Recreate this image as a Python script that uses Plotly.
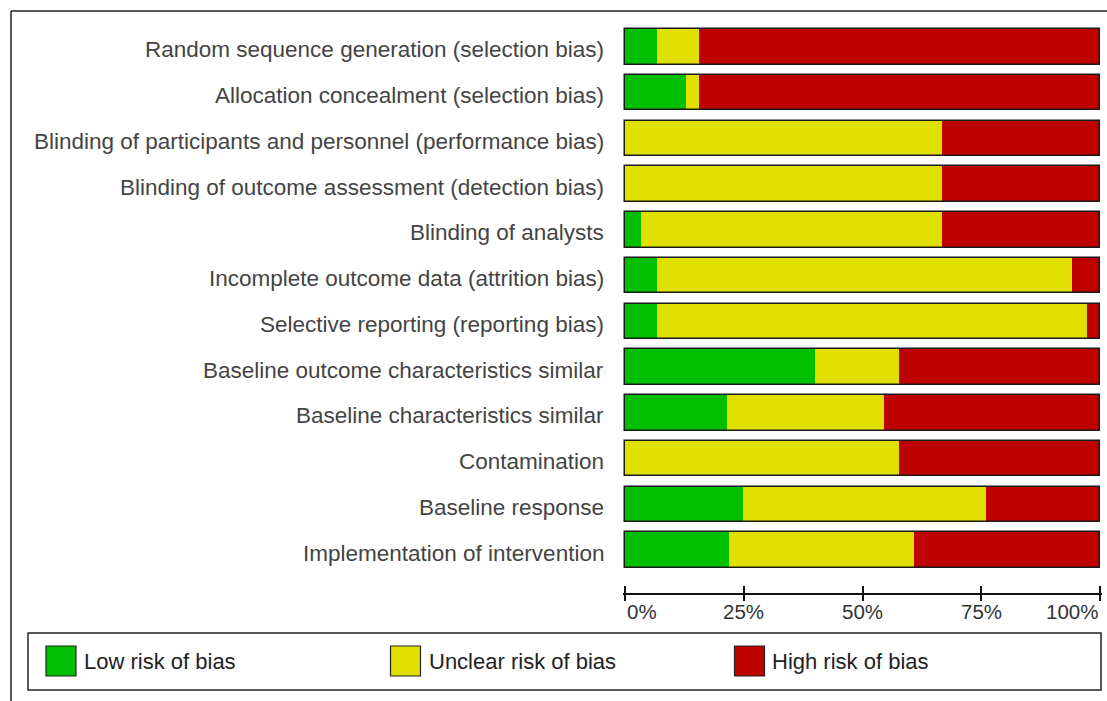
import plotly.graph_objects as go

categories = [
    "Random sequence generation (selection bias)",
    "Allocation concealment (selection bias)",
    "Blinding of participants and personnel (performance bias)",
    "Blinding of outcome assessment (detection bias)",
    "Blinding of analysts",
    "Incomplete outcome data (attrition bias)",
    "Selective reporting (reporting bias)",
    "Baseline outcome characteristics similar",
    "Baseline characteristics similar",
    "Contamination",
    "Baseline response",
    "Implementation of intervention",
]
low_risk = [6.7, 12.7, 0.0, 0.0, 3.2, 6.7, 6.7, 40.0, 21.4, 0.0, 24.8, 21.8]
unclear_risk = [8.9, 2.9, 66.7, 66.7, 63.5, 87.4, 90.6, 17.8, 33.2, 57.8, 51.2, 39.0]
high_risk = [84.4, 84.4, 33.3, 33.3, 33.3, 5.9, 2.7, 42.2, 45.4, 42.2, 24.0, 39.2]

series_names = ["Low risk of bias", "Unclear risk of bias", "High risk of bias"]
series_colors = ["#00BF00", "#DFDF00", "#BF0000"]
tick_values = [0, 25, 50, 75, 100]
tick_labels = ["0%", "25%", "50%", "75%", "100%"]

W, H = 1107, 701
ML, MR, MT, MB = 623, 5, 24, 108
PL, PR, PT, PB = ML, W - MR, MT, H - MB
FONT = "Liberation Sans, Arial, sans-serif"


def px_x(p):
    return (p - PL) / (PR - PL)


def px_y(p):
    return (PB - p) / (PB - PT)


ypos = list(range(len(categories)))
series = [low_risk, unclear_risk, high_risk]

fig = go.Figure()
base = [0.0] * len(categories)
for vals, name, col in zip(series, series_names, series_colors):
    fig.add_trace(go.Bar(
        y=ypos, x=vals, base=list(base), orientation="h", name=name,
        marker=dict(color=col, line=dict(width=0)), width=0.78,
        showlegend=False, xaxis="x", yaxis="y",
    ))
    base = [b + v for b, v in zip(base, vals)]

totals = base
fig.add_trace(go.Bar(
    y=ypos, x=totals, base=[0] * len(categories), orientation="h",
    marker=dict(color="rgba(0,0,0,0)", line=dict(color="#1a1a1a", width=1.5)),
    width=0.78, showlegend=False, hoverinfo="skip",
))

shapes = []
annotations = []
# outer frame
shapes.append(dict(type="line", xref="paper", yref="paper",
                   x0=px_x(11), x1=px_x(W + 5), y0=px_y(11), y1=px_y(11),
                   line=dict(color="#222", width=1.5)))
shapes.append(dict(type="line", xref="paper", yref="paper",
                   x0=px_x(11), x1=px_x(11), y0=px_y(11), y1=px_y(H + 5),
                   line=dict(color="#222", width=1.5)))
# legend box
shapes.append(dict(type="rect", xref="paper", yref="paper",
                   x0=px_x(28), x1=px_x(1101), y0=px_y(633), y1=px_y(690),
                   line=dict(color="#222", width=1.5), fillcolor="rgba(0,0,0,0)"))
sw_x = [46, 390.5, 734.5]
txt_x = [82, 427, 770]
for sx, tx, name, col in zip(sw_x, txt_x, series_names, series_colors):
    shapes.append(dict(type="rect", xref="paper", yref="paper",
                       x0=px_x(sx), x1=px_x(sx + 30), y0=px_y(646), y1=px_y(676),
                       line=dict(color="#222", width=1.2), fillcolor=col))
    annotations.append(dict(xref="paper", yref="paper", x=px_x(tx), y=px_y(661),
                            xanchor="left", yanchor="middle", text=name, showarrow=False,
                            font=dict(family=FONT, size=22, color="#222")))

# category labels
for yp, cat in zip(ypos, categories):
    annotations.append(dict(xref="paper", yref="y", x=px_x(606), y=yp, yshift=-3,
                            xanchor="right", yanchor="middle", text=cat, showarrow=False,
                            font=dict(family=FONT, size=22.5, color="#444")))

# x tick labels
anchors = ["left", "center", "center", "center", "right"]
for tv, tl, an in zip(tick_values, tick_labels, anchors):
    annotations.append(dict(xref="x", yref="paper", x=tv, y=0, xanchor=an, yanchor="top",
                            yshift=-5, text=tl, showarrow=False,
                            font=dict(family=FONT, size=20.5, color="#333")))

fig.update_layout(
    width=W, height=H, autosize=False,
    margin=dict(l=ML, r=MR, t=MT, b=MB, pad=0),
    paper_bgcolor="white", plot_bgcolor="white",
    barmode="overlay", bargap=0,
    showlegend=False,
    xaxis=dict(range=[-0.5, 100.5], showgrid=False, zeroline=False,
               showline=True, linecolor="#111", linewidth=1.5,
               ticks="outside", ticklen=6, tickwidth=1.5, tickcolor="#111",
               tickvals=tick_values, showticklabels=False, fixedrange=True),
    xaxis2=dict(range=[-0.5, 100.5], overlaying="x", anchor="y", side="bottom",
                showgrid=False, zeroline=False, showline=False,
                ticks="inside", ticklen=7, tickwidth=1.5, tickcolor="#111",
                tickvals=tick_values, showticklabels=False, fixedrange=True),
    yaxis=dict(range=[len(categories) - 0.5 + 0.437, -0.5], showgrid=False, zeroline=False,
               showline=False, tickvals=ypos, showticklabels=False, ticks="",
               fixedrange=True),
    shapes=shapes,
    annotations=annotations,
)
# dummy trace to activate xaxis2
fig.add_trace(go.Scatter(x=[None], y=[None], xaxis="x2", yaxis="y", showlegend=False, hoverinfo="skip"))

fig.write_html("out.html", post_script="document.body.style.margin='0';",
               config={"displayModeBar": False})
